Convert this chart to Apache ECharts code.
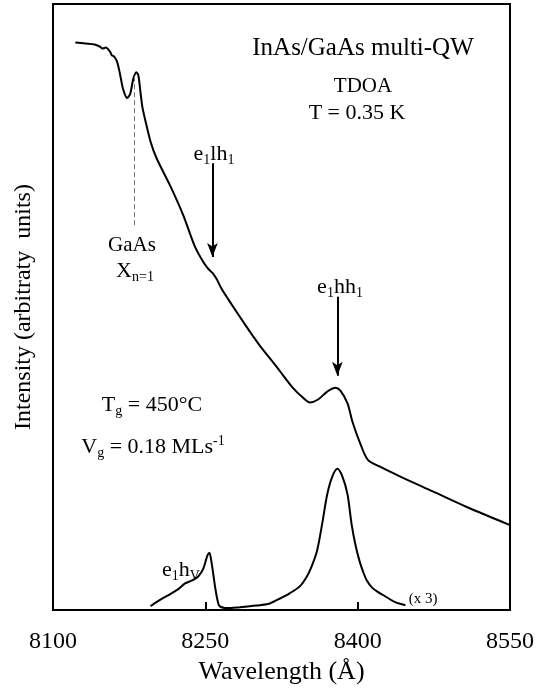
<!DOCTYPE html>
<html>
<head>
<meta charset="utf-8">
<script src="https://cdn.jsdelivr.net/npm/echarts@6/dist/echarts.min.js"></script>
<style>html,body{margin:0;padding:0;background:#fff}#c{width:543px;height:690px}</style>
</head>
<body>
<div id="c"></div>
<script>
// Tick labels
var xTicks = [8100, 8250, 8400, 8550];
// Upper curve: TDOA spectrum
var tdoaWl = [8122,8132,8141,8146,8149,8152,8156,8158,8160,8163,8166,8169,8173,8176,8179,8182,8184,8186,8188,8191,8196,8202,8215,8228,8240,8248,8253,8257,8261,8266,8276,8289,8297,8304,8321,8336,8346,8353,8361,8370,8378,8383,8390,8395,8402,8410,8422,8442,8474,8508,8550];
var tdoaI  = [574,573,572,570,568,569,565,561,560,555,542,527,518,522,537,544,541,525,509,495,474,457,430,400,367,352,345,341,335,325,309,289,277,267,245,225,215,210,213,221,225,222,209,190,170,152,145,135,120,104,86];
// Lower curve: (x 3)
var lowWl = [8196,8205,8215,8223,8230,8237,8243,8248,8252,8254,8256,8258,8260,8262,8264,8272,8284,8294,8304,8314,8324,8333,8343,8350,8355,8360,8365,8370,8375,8380,8385,8390,8394,8398,8402,8406,8409,8414,8419,8427,8437,8447];
var lowI  = [4,10,16,21,27,30,34,42,55,58,49,35,21,10,4,2,3,4,5,7,12,17,24,34,45,60,87,117,135,143,135,117,87,65,49,37,30,23,19,14,8,5];

function pairs(a, b) { return a.map(function (v, i) { return [v, b[i]]; }); }

var serif = 'Liberation Serif';
var chart = echarts.init(document.getElementById('c'));
var main = {fontSize: 22, fontFamily: serif, lineHeight: 26, verticalAlign: 'middle', color: '#000'};
var sub = {fontSize: 14, fontFamily: serif, lineHeight: 14, verticalAlign: 'bottom', color: '#000'};
var sup = {fontSize: 14, fontFamily: serif, lineHeight: 14, verticalAlign: 'top', color: '#000'};
function txt(x, y, text, size) {
  return {type: 'text', x: x, y: y, style: {text: text, fontSize: size, fontFamily: serif, fill: '#000', align: 'center', verticalAlign: 'middle',
    rich: {a: main, b: sub, c: sup}}};
}
chart.setOption({
  animation: false,
  backgroundColor: '#fff',
  grid: {left: 53, right: 33, top: 4, bottom: 73, show: true, borderColor: '#000', borderWidth: 2},
  xAxis: {
    type: 'value', min: 8100, max: 8550, interval: 150,
    name: 'Wavelength (Å)', nameLocation: 'middle', nameGap: 48,
    nameTextStyle: {fontSize: 26, fontFamily: serif, color: '#000'},
    axisLine: {lineStyle: {color: '#000', width: 2}},
    axisTick: {inside: true, length: 8, lineStyle: {color: '#000', width: 2}},
    axisLabel: {fontSize: 24, fontFamily: serif, color: '#000', margin: 20,
      formatter: function (v) { return xTicks.indexOf(v) >= 0 ? String(v) : ''; }},
    splitLine: {show: false}
  },
  yAxis: {
    type: 'value', min: 0, max: 613,
    name: 'Intensity (arbitraty  units)', nameLocation: 'middle', nameGap: 17, nameRotate: 90,
    nameTextStyle: {fontSize: 24, fontFamily: serif, color: '#000'},
    axisLine: {show: true, lineStyle: {color: '#000', width: 2}},
    axisTick: {show: false}, axisLabel: {show: false}, splitLine: {show: false}
  },
  series: [
    {type: 'line', data: pairs(tdoaWl, tdoaI), showSymbol: false, smooth: 0.3,
      lineStyle: {color: '#000', width: 2},
      markLine: {silent: true, animation: false, label: {show: false}, symbol: ['none', 'none'],
        data: [
          [{coord: [8257, 452], symbol: 'none', lineStyle: {color: '#000', width: 2, type: 'solid'}},
           {coord: [8257, 357], symbol: 'arrow', symbolSize: [8, 14]}],
          [{coord: [8380, 317], symbol: 'none', lineStyle: {color: '#000', width: 2, type: 'solid'}},
           {coord: [8380, 237], symbol: 'arrow', symbolSize: [8, 14]}],
          [{coord: [8180, 540], symbol: 'none', lineStyle: {color: '#777', width: 1, type: [5, 3]}},
           {coord: [8180, 389], symbol: 'none'}]
        ]}},
    {type: 'line', data: pairs(lowWl, lowI), showSymbol: false, smooth: 0.3,
      lineStyle: {color: '#000', width: 2}}
  ],
  graphic: [
    txt(363, 48, 'InAs/GaAs multi-QW', 25),
    txt(363, 86, 'TDOA', 21),
    txt(357, 113, 'T = 0.35 K', 22),
    txt(214, 154, '{a|e}{b|1}{a|lh}{b|1}', 22),
    txt(132, 245, 'GaAs', 21),
    txt(135, 271, '{a|X}{b|n=1}', 22),
    txt(340, 287, '{a|e}{b|1}{a|hh}{b|1}', 22),
    txt(152, 405, '{a|T}{b|g}{a| = 450°C}', 22),
    txt(153, 447, '{a|V}{b|g}{a| = 0.18 MLs}{c|-1}', 22),
    txt(181, 570, '{a|e}{b|1}{a|h}{b|V}', 22),
    txt(423, 599, '(x 3)', 15)
  ]
});
</script>
</body>
</html>
